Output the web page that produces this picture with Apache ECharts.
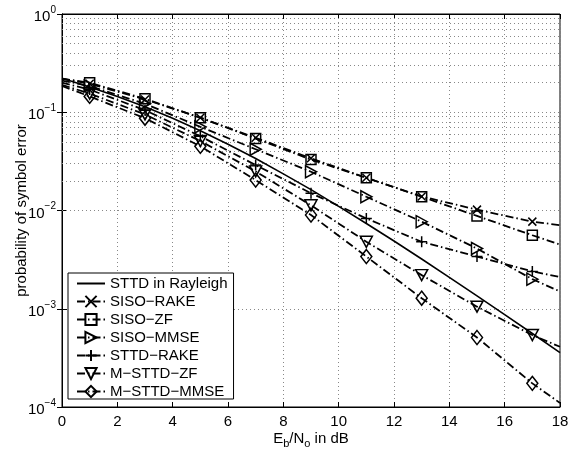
<!DOCTYPE html>
<html>
<head>
<meta charset="utf-8">
<script src="https://cdn.jsdelivr.net/npm/echarts@6/dist/echarts.min.js"></script>
<style>
html,body{margin:0;padding:0;background:#fff;}
#chart{width:580px;height:455px;}
</style>
</head>
<body>
<div id="chart"></div>
<script>
// ---- data ----
const xRayleigh = [0,1,2,3,4,5,6,7,8,9,10,11,12,13,14,15,16,17,18];
const sttdRayleigh = [0.222,0.181,0.145,0.114,0.0868,0.0648,0.0473,0.0338,0.0236,0.0163,0.0110,0.00738,0.00489,0.00321,0.00209,0.00135,0.00087,0.00056,0.000357];
const xSim = [0,1,3,5,7,9,11,13,15,17,18];
const sisoRake  = [0.22,0.195,0.135,0.088,0.055,0.034,0.0215,0.0139,0.0102,0.0077,0.0071];
const sisoZF    = [0.22,0.20,0.137,0.088,0.054,0.033,0.0215,0.0138,0.0088,0.0056,0.0045];
const sisoMMSE  = [0.21,0.185,0.122,0.071,0.042,0.0248,0.0138,0.0077,0.0041,0.0020,0.0015];
const sttdRake  = [0.20,0.17,0.105,0.057,0.029,0.0150,0.0083,0.0048,0.0034,0.0024,0.0021];
const msttdZF   = [0.19,0.155,0.095,0.051,0.025,0.0113,0.0048,0.0022,0.00105,0.00054,0.00041];
const msttdMMSE = [0.185,0.145,0.087,0.045,0.0204,0.009,0.0034,0.00128,0.00051,0.000174,0.00011];
const names = ['STTD in Rayleigh','SISO\u2212RAKE','SISO\u2212ZF','SISO\u2212MMSE','STTD\u2212RAKE','M\u2212STTD\u2212ZF','M\u2212STTD\u2212MMSE'];

const FONT = 'Liberation Sans, Arial, Helvetica, sans-serif';
const dashDot = [8,3,1.5,3];

function simData(vals, sym){
  return xSim.map((x,i)=>({value:[x, vals[i]], symbol: (x%2===1) ? sym : 'none'}));
}
function simSeries(name, vals, sym, size){
  return {
    name, type:'line', data: simData(vals, sym), symbol: sym, symbolSize: size,
    showAllSymbol: true,
    lineStyle:{color:'#000', width:1.8, type: dashDot},
    itemStyle:{color:'rgba(255,255,255,0)', borderColor:'#000', borderWidth:1.5},
    emphasis:{disabled:true}, animation:false, z:5
  };
}

// minor log grid lines (values, positioned by the axis scale)
const minorVals = [];
for (let d=-4; d<0; d++){
  for (let m=2; m<=9; m++) minorVals.push(m*Math.pow(10,d));
}

const gridLineStyle = {color:'#888', width:1, type:[1,3]};

const option = {
  backgroundColor:'#fff',
  animation:false,
  grid:{left:62, right:20, top:14, bottom:48, containLabel:false, outerBoundsMode:'none',
        show:true, borderColor:'#000', borderWidth:1, backgroundColor:'transparent'},
  legend:{
    orient:'vertical', left:68, top:273,
    backgroundColor:'#fff', borderColor:'#000', borderWidth:1,
    padding:[3,6,0,8], itemGap:3, itemWidth:28, itemHeight:14,
    textStyle:{fontFamily:FONT, fontSize:15, color:'#000', width:131},
    data: names.map((n,i)=> i===0 ? {name:n, itemStyle:{color:'rgba(0,0,0,0)', borderWidth:0}} : {name:n})
  },
  xAxis:[{
    type:'value', min:0, max:18, interval:2, position:'bottom',
    name:'E{sub|b}/N{sub|o} in dB', nameLocation:'middle', nameGap:22, nameMoveOverlap:false,
    nameTextStyle:{fontFamily:FONT, fontSize:15, color:'#000',
      rich:{sub:{fontFamily:FONT, fontSize:11, color:'#000', padding:[9,0,0,0]}}},
    axisLine:{lineStyle:{color:'#000'}},
    axisTick:{inside:true, length:5, lineStyle:{color:'#000'}},
    axisLabel:{fontFamily:FONT, fontSize:15, color:'#000', margin:7},
    splitLine:{show:true, lineStyle:gridLineStyle}
  },{
    type:'value', min:0, max:18, interval:2, position:'top',
    axisLine:{lineStyle:{color:'#000'}},
    axisTick:{inside:true, length:5, lineStyle:{color:'#000'}},
    axisLabel:{show:false}, splitLine:{show:false}
  }],
  yAxis:[{
    type:'log', logBase:10, min:1e-4, max:1, splitNumber:4,
    name:'probability of symbol error', nameLocation:'middle', nameGap:33, nameMoveOverlap:false,
    nameTextStyle:{fontFamily:FONT, fontSize:15, color:'#000'},
    axisLine:{show:true, lineStyle:{color:'#000'}},
    axisTick:{show:true, inside:true, length:5, lineStyle:{color:'#000'}},
    axisLabel:{
      fontFamily:FONT, color:'#000', margin:6,
      formatter:function(v){
        const e = Math.round(Math.log10(v));
        return '{b|10}{s|' + (e<0 ? '\u2212'+(-e) : e) + '}';
      },
      rich:{
        b:{fontFamily:FONT, fontSize:15, color:'#000', padding:[6,0,0,0]},
        s:{fontFamily:FONT, fontSize:10, color:'#000', padding:[0,0,8,0]}
      }
    },
    splitLine:{show:true, lineStyle:gridLineStyle}
  },{
    type:'log', logBase:10, min:1e-4, max:1, splitNumber:4, position:'right',
    axisLine:{show:true, lineStyle:{color:'#000'}},
    axisTick:{show:true, inside:true, length:5, lineStyle:{color:'#000'}},
    axisLabel:{show:false}, splitLine:{show:false}
  }],
  series:[
    {
      name:names[0], type:'line', symbol:'none',
      data: xRayleigh.map((x,i)=>[x, sttdRayleigh[i]]),
      lineStyle:{color:'#000', width:1.6, type:'solid'},
      itemStyle:{color:'#000'},
      emphasis:{disabled:true}, z:6,
      markLine:{
        silent:true, symbol:'none', label:{show:false},
        lineStyle:gridLineStyle, animation:false, z:1,
        data: minorVals.map(v=>({yAxis:v}))
      }
    },
    simSeries(names[1], sisoRake, 'path://M0,0L10,10M0,10L10,0', 8),
    simSeries(names[2], sisoZF, 'rect', 10),
    simSeries(names[3], sisoMMSE, 'path://M0,0L10,5L0,10Z', [11,12]),
    simSeries(names[4], sttdRake, 'path://M5,0L5,10M0,5L10,5', 11),
    simSeries(names[5], msttdZF, 'path://M0,0L10,0L5,10Z', [12,11]),
    simSeries(names[6], msttdMMSE, 'diamond', [11,14])
  ]
};

const chart = echarts.init(document.getElementById('chart'), null, {renderer:'canvas'});
chart.setOption(option);
</script>
</body>
</html>
